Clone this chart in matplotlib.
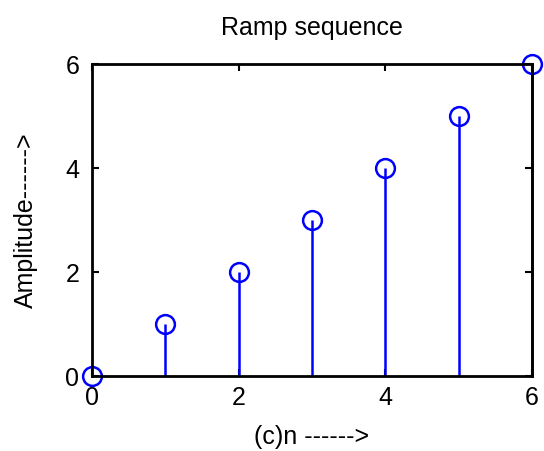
import matplotlib
matplotlib.use('Agg')
import matplotlib.pyplot as plt

plt.rcParams['font.family'] = ['Liberation Sans', 'DejaVu Sans']

# Данные
n = [0, 1, 2, 3, 4, 5, 6]
amplitude = [0, 1, 2, 3, 4, 5, 6]
xticks = [0, 2, 4, 6]
yticks = [0, 2, 4, 6]

fig = plt.figure(figsize=(5.44, 4.51), dpi=100)
ax = fig.add_axes([0.169, 0.166, 0.809, 0.692])

markers, stems, base = ax.stem(n, amplitude, basefmt=' ')
plt.setp(stems, color='#0000ff', linewidth=1.8)
plt.setp(markers, color='#0000ff', marker='o', markerfacecolor='none',
         markeredgecolor='#0000ff', markersize=13.5, markeredgewidth=1.8)
markers.set_clip_on(False)
stems.set_clip_on(False)

ax.set_xlim(0, 6)
ax.set_ylim(0, 6)
ax.set_xticks(xticks)
ax.set_yticks(yticks)
ax.tick_params(direction='in', length=5, width=1.5, top=True, right=True,
               labelsize=18)
ax.tick_params(axis='x', pad=7)
ax.tick_params(axis='y', pad=9)
for sp in ax.spines.values():
    sp.set_linewidth(2)

ax.set_title('Ramp sequence', fontsize=18, pad=21)
ax.set_xlabel('(c)n ------>', fontsize=18, labelpad=11)
ax.set_ylabel('Amplitude------>', fontsize=18, labelpad=20)

fig.savefig('out.png', dpi=100)
